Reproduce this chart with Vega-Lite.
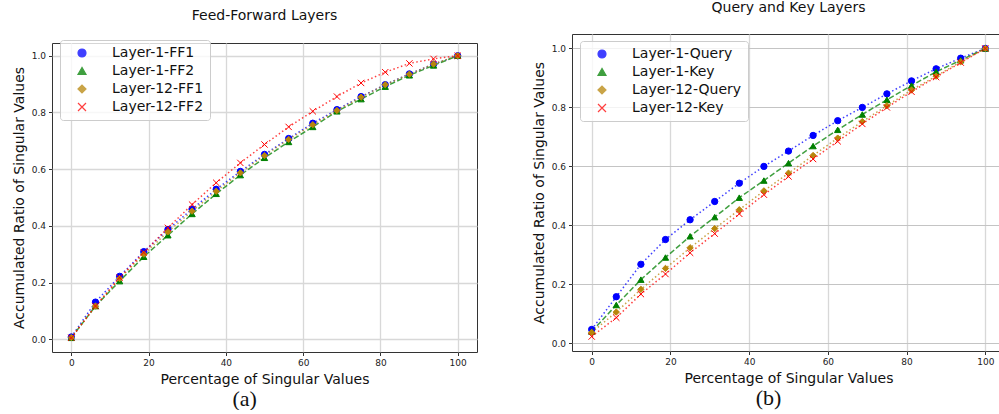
{
  "$schema": "https://vega.github.io/schema/vega-lite/v6.json",
  "padding": {"left": 11, "top": 0, "right": 0, "bottom": 0},
  "background": "white",
  "datasets": {
    "ff": [
      {"p":0,"r":0.008,"s":"Layer-1-FF1"},{"p":6.25,"r":0.131,"s":"Layer-1-FF1"},{"p":12.5,"r":0.222,"s":"Layer-1-FF1"},{"p":18.75,"r":0.309,"s":"Layer-1-FF1"},{"p":25,"r":0.387,"s":"Layer-1-FF1"},{"p":31.25,"r":0.459,"s":"Layer-1-FF1"},{"p":37.5,"r":0.529,"s":"Layer-1-FF1"},{"p":43.75,"r":0.592,"s":"Layer-1-FF1"},{"p":50,"r":0.652,"s":"Layer-1-FF1"},{"p":56.25,"r":0.708,"s":"Layer-1-FF1"},{"p":62.5,"r":0.762,"s":"Layer-1-FF1"},{"p":68.75,"r":0.81,"s":"Layer-1-FF1"},{"p":75,"r":0.856,"s":"Layer-1-FF1"},{"p":81.25,"r":0.898,"s":"Layer-1-FF1"},{"p":87.5,"r":0.936,"s":"Layer-1-FF1"},{"p":93.75,"r":0.97,"s":"Layer-1-FF1"},{"p":100,"r":1.0,"s":"Layer-1-FF1"},
      {"p":0,"r":0.005,"s":"Layer-1-FF2"},{"p":6.25,"r":0.117,"s":"Layer-1-FF2"},{"p":12.5,"r":0.205,"s":"Layer-1-FF2"},{"p":18.75,"r":0.291,"s":"Layer-1-FF2"},{"p":25,"r":0.367,"s":"Layer-1-FF2"},{"p":31.25,"r":0.442,"s":"Layer-1-FF2"},{"p":37.5,"r":0.513,"s":"Layer-1-FF2"},{"p":43.75,"r":0.579,"s":"Layer-1-FF2"},{"p":50,"r":0.64,"s":"Layer-1-FF2"},{"p":56.25,"r":0.696,"s":"Layer-1-FF2"},{"p":62.5,"r":0.749,"s":"Layer-1-FF2"},{"p":68.75,"r":0.804,"s":"Layer-1-FF2"},{"p":75,"r":0.847,"s":"Layer-1-FF2"},{"p":81.25,"r":0.891,"s":"Layer-1-FF2"},{"p":87.5,"r":0.931,"s":"Layer-1-FF2"},{"p":93.75,"r":0.966,"s":"Layer-1-FF2"},{"p":100,"r":1.0,"s":"Layer-1-FF2"},
      {"p":0,"r":0.006,"s":"Layer-12-FF1"},{"p":6.25,"r":0.117,"s":"Layer-12-FF1"},{"p":12.5,"r":0.214,"s":"Layer-12-FF1"},{"p":18.75,"r":0.3,"s":"Layer-12-FF1"},{"p":25,"r":0.379,"s":"Layer-12-FF1"},{"p":31.25,"r":0.452,"s":"Layer-12-FF1"},{"p":37.5,"r":0.522,"s":"Layer-12-FF1"},{"p":43.75,"r":0.587,"s":"Layer-12-FF1"},{"p":50,"r":0.648,"s":"Layer-12-FF1"},{"p":56.25,"r":0.705,"s":"Layer-12-FF1"},{"p":62.5,"r":0.757,"s":"Layer-12-FF1"},{"p":68.75,"r":0.807,"s":"Layer-12-FF1"},{"p":75,"r":0.854,"s":"Layer-12-FF1"},{"p":81.25,"r":0.898,"s":"Layer-12-FF1"},{"p":87.5,"r":0.935,"s":"Layer-12-FF1"},{"p":93.75,"r":0.971,"s":"Layer-12-FF1"},{"p":100,"r":1.0,"s":"Layer-12-FF1"},
      {"p":0,"r":0.005,"s":"Layer-12-FF2"},{"p":6.25,"r":0.117,"s":"Layer-12-FF2"},{"p":12.5,"r":0.217,"s":"Layer-12-FF2"},{"p":18.75,"r":0.306,"s":"Layer-12-FF2"},{"p":25,"r":0.393,"s":"Layer-12-FF2"},{"p":31.25,"r":0.475,"s":"Layer-12-FF2"},{"p":37.5,"r":0.552,"s":"Layer-12-FF2"},{"p":43.75,"r":0.622,"s":"Layer-12-FF2"},{"p":50,"r":0.687,"s":"Layer-12-FF2"},{"p":56.25,"r":0.749,"s":"Layer-12-FF2"},{"p":62.5,"r":0.804,"s":"Layer-12-FF2"},{"p":68.75,"r":0.856,"s":"Layer-12-FF2"},{"p":75,"r":0.904,"s":"Layer-12-FF2"},{"p":81.25,"r":0.942,"s":"Layer-12-FF2"},{"p":87.5,"r":0.973,"s":"Layer-12-FF2"},{"p":93.75,"r":0.989,"s":"Layer-12-FF2"},{"p":100,"r":1.0,"s":"Layer-12-FF2"}
    ],
    "qk": [
      {"p":0,"r":0.047,"s":"Layer-1-Query"},{"p":6.25,"r":0.158,"s":"Layer-1-Query"},{"p":12.5,"r":0.268,"s":"Layer-1-Query"},{"p":18.75,"r":0.352,"s":"Layer-1-Query"},{"p":25,"r":0.419,"s":"Layer-1-Query"},{"p":31.25,"r":0.481,"s":"Layer-1-Query"},{"p":37.5,"r":0.543,"s":"Layer-1-Query"},{"p":43.75,"r":0.6,"s":"Layer-1-Query"},{"p":50,"r":0.652,"s":"Layer-1-Query"},{"p":56.25,"r":0.705,"s":"Layer-1-Query"},{"p":62.5,"r":0.755,"s":"Layer-1-Query"},{"p":68.75,"r":0.8,"s":"Layer-1-Query"},{"p":75,"r":0.846,"s":"Layer-1-Query"},{"p":81.25,"r":0.89,"s":"Layer-1-Query"},{"p":87.5,"r":0.931,"s":"Layer-1-Query"},{"p":93.75,"r":0.967,"s":"Layer-1-Query"},{"p":100,"r":1.0,"s":"Layer-1-Query"},
      {"p":0,"r":0.04,"s":"Layer-1-Key"},{"p":6.25,"r":0.13,"s":"Layer-1-Key"},{"p":12.5,"r":0.216,"s":"Layer-1-Key"},{"p":18.75,"r":0.291,"s":"Layer-1-Key"},{"p":25,"r":0.363,"s":"Layer-1-Key"},{"p":31.25,"r":0.428,"s":"Layer-1-Key"},{"p":37.5,"r":0.494,"s":"Layer-1-Key"},{"p":43.75,"r":0.552,"s":"Layer-1-Key"},{"p":50,"r":0.611,"s":"Layer-1-Key"},{"p":56.25,"r":0.669,"s":"Layer-1-Key"},{"p":62.5,"r":0.724,"s":"Layer-1-Key"},{"p":68.75,"r":0.776,"s":"Layer-1-Key"},{"p":75,"r":0.826,"s":"Layer-1-Key"},{"p":81.25,"r":0.874,"s":"Layer-1-Key"},{"p":87.5,"r":0.921,"s":"Layer-1-Key"},{"p":93.75,"r":0.96,"s":"Layer-1-Key"},{"p":100,"r":1.0,"s":"Layer-1-Key"},
      {"p":0,"r":0.037,"s":"Layer-12-Query"},{"p":6.25,"r":0.106,"s":"Layer-12-Query"},{"p":12.5,"r":0.183,"s":"Layer-12-Query"},{"p":18.75,"r":0.254,"s":"Layer-12-Query"},{"p":25,"r":0.324,"s":"Layer-12-Query"},{"p":31.25,"r":0.389,"s":"Layer-12-Query"},{"p":37.5,"r":0.453,"s":"Layer-12-Query"},{"p":43.75,"r":0.517,"s":"Layer-12-Query"},{"p":50,"r":0.577,"s":"Layer-12-Query"},{"p":56.25,"r":0.637,"s":"Layer-12-Query"},{"p":62.5,"r":0.696,"s":"Layer-12-Query"},{"p":68.75,"r":0.752,"s":"Layer-12-Query"},{"p":75,"r":0.806,"s":"Layer-12-Query"},{"p":81.25,"r":0.859,"s":"Layer-12-Query"},{"p":87.5,"r":0.906,"s":"Layer-12-Query"},{"p":93.75,"r":0.955,"s":"Layer-12-Query"},{"p":100,"r":1.0,"s":"Layer-12-Query"},
      {"p":0,"r":0.023,"s":"Layer-12-Key"},{"p":6.25,"r":0.087,"s":"Layer-12-Key"},{"p":12.5,"r":0.167,"s":"Layer-12-Key"},{"p":18.75,"r":0.235,"s":"Layer-12-Key"},{"p":25,"r":0.307,"s":"Layer-12-Key"},{"p":31.25,"r":0.372,"s":"Layer-12-Key"},{"p":37.5,"r":0.439,"s":"Layer-12-Key"},{"p":43.75,"r":0.504,"s":"Layer-12-Key"},{"p":50,"r":0.566,"s":"Layer-12-Key"},{"p":56.25,"r":0.625,"s":"Layer-12-Key"},{"p":62.5,"r":0.685,"s":"Layer-12-Key"},{"p":68.75,"r":0.744,"s":"Layer-12-Key"},{"p":75,"r":0.8,"s":"Layer-12-Key"},{"p":81.25,"r":0.853,"s":"Layer-12-Key"},{"p":87.5,"r":0.903,"s":"Layer-12-Key"},{"p":93.75,"r":0.952,"s":"Layer-12-Key"},{"p":100,"r":1.0,"s":"Layer-12-Key"}
    ]
  },
  "spacing": 53,
  "hconcat": [
    {
      "title": {"text": "(a)", "orient": "bottom", "font": "Liberation Serif", "fontSize": 22, "frame": "bounds", "offset": 2, "anchor": "middle"},
      "spacing": 7,
      "vconcat": [
        {"width": 425, "height": 1, "view": {"stroke": null}, "title": {"text": "Feed-Forward Layers", "offset": 11}, "data": {"values": []}, "mark": "point", "encoding": {}},
        {
          "width": 425, "height": 309,
          "data": {"name": "ff"},
          "encoding": {
            "x": {"field": "p", "type": "quantitative", "scale": {"domain": [-5, 105], "nice": false, "zero": false}, "axis": {"values": [0,20,40,60,80,100], "title": "Percentage of Singular Values", "format": "d"}},
            "y": {"field": "r", "type": "quantitative", "scale": {"domain": [-0.045, 1.045], "nice": false, "zero": false}, "axis": {"values": [0,0.2,0.4,0.6,0.8,1.0], "title": "Accumulated Ratio of Singular Values", "format": ".1f"}}
          },
          "layer": [
            {
              "mark": {"type": "line", "strokeWidth": 1.5, "opacity": 0.75},
              "encoding": {
                "color": {"field": "s", "type": "nominal", "scale": {"domain": ["Layer-1-FF1","Layer-1-FF2","Layer-12-FF1","Layer-12-FF2"], "range": ["blue","green","#b8860b","red"]}},
                "strokeDash": {"field": "s", "type": "nominal", "sort": ["Layer-1-FF1","Layer-1-FF2","Layer-12-FF1","Layer-12-FF2"], "scale": {"range": [[1.5,2.5],[5.5,2.4],[1.5,2.5],[1.5,2.5]]}, "legend": null}
              }
            },
            {
              "mark": {"type": "point", "filled": true, "opacity": 1, "size": 40, "strokeWidth": 1},
              "encoding": {
                "color": {"field": "s", "type": "nominal", "scale": {"domain": ["Layer-1-FF1","Layer-1-FF2","Layer-12-FF1","Layer-12-FF2"], "range": ["blue","green","#b8860b","red"]},
                  "legend": {
                    "orient": "none", "legendX": 8, "legendY": 6, "title": null, "padding": 6, "rowPadding": 4,
                    "fillColor": "rgba(255,255,255,0.8)", "strokeColor": "#cccccc", "cornerRadius": 3,
                    "labelFontSize": 14, "labelFont": "DejaVu Sans", "labelColor": "#111", "labelLimit": 300,
                    "symbolSize": 64, "symbolOffset": 9, "labelOffset": 23, "symbolOpacity": 1, "symbolStrokeWidth": 1.2
                  }
                },
                "stroke": {"field": "s", "type": "nominal", "scale": {"domain": ["Layer-1-FF1","Layer-1-FF2","Layer-12-FF1","Layer-12-FF2"], "range": ["blue","green","#b8860b","red"]}},
                "shape": {"field": "s", "type": "nominal", "scale": {"domain": ["Layer-1-FF1","Layer-1-FF2","Layer-12-FF1","Layer-12-FF2"], "range": ["circle","triangle-up","diamond","M-1,-1L1,1M-1,1L1,-1"]}}
              }
            }
          ]
        }
      ]
    },
    {
      "title": {"text": "(b)", "orient": "bottom", "font": "Liberation Serif", "fontSize": 22, "frame": "bounds", "offset": 2, "anchor": "middle"},
      "vconcat": [
        {
          "width": 433, "height": 317,
          "title": {"text": "Query and Key Layers"},
          "data": {"name": "qk"},
          "encoding": {
            "x": {"field": "p", "type": "quantitative", "scale": {"domain": [-5, 105], "nice": false, "zero": false}, "axis": {"values": [0,20,40,60,80,100], "title": "Percentage of Singular Values", "format": "d"}},
            "y": {"field": "r", "type": "quantitative", "scale": {"domain": [-0.026, 1.049], "nice": false, "zero": false}, "axis": {"values": [0,0.2,0.4,0.6,0.8,1.0], "title": "Accumulated Ratio of Singular Values", "format": ".1f", "gridColor": "#c4c4c4", "gridWidth": 1}}
          },
          "layer": [
            {
              "mark": {"type": "line", "strokeWidth": 1.5, "opacity": 0.75},
              "encoding": {
                "color": {"field": "s", "type": "nominal", "scale": {"domain": ["Layer-1-Query","Layer-1-Key","Layer-12-Query","Layer-12-Key"], "range": ["blue","green","#b8860b","red"]}},
                "strokeDash": {"field": "s", "type": "nominal", "sort": ["Layer-1-Query","Layer-1-Key","Layer-12-Query","Layer-12-Key"], "scale": {"range": [[1.5,2.5],[5.5,2.4],[1.5,2.5],[1.5,2.5]]}, "legend": null}
              }
            },
            {
              "mark": {"type": "point", "filled": true, "opacity": 1, "size": 40, "strokeWidth": 1},
              "encoding": {
                "color": {"field": "s", "type": "nominal", "scale": {"domain": ["Layer-1-Query","Layer-1-Key","Layer-12-Query","Layer-12-Key"], "range": ["blue","green","#b8860b","red"]},
                  "legend": {
                    "orient": "none", "legendX": 8, "legendY": 7, "title": null, "padding": 6, "rowPadding": 4,
                    "fillColor": "rgba(255,255,255,0.8)", "strokeColor": "#cccccc", "cornerRadius": 3,
                    "labelFontSize": 14, "labelFont": "DejaVu Sans", "labelColor": "#111", "labelLimit": 300,
                    "symbolSize": 64, "symbolOffset": 9, "labelOffset": 23, "symbolOpacity": 1, "symbolStrokeWidth": 1.2
                  }
                },
                "stroke": {"field": "s", "type": "nominal", "scale": {"domain": ["Layer-1-Query","Layer-1-Key","Layer-12-Query","Layer-12-Key"], "range": ["blue","green","#b8860b","red"]}},
                "shape": {"field": "s", "type": "nominal", "scale": {"domain": ["Layer-1-Query","Layer-1-Key","Layer-12-Query","Layer-12-Key"], "range": ["circle","triangle-up","diamond","M-1,-1L1,1M-1,1L1,-1"]}}
              }
            }
          ]
        }
      ]
    }
  ],
  "resolve": {"scale": {"color": "independent", "stroke": "independent", "shape": "independent", "strokeDash": "independent"}, "legend": {"color": "independent", "stroke": "independent", "shape": "independent", "strokeDash": "independent"}},
  "config": {
    "view": {"stroke": "#333333", "strokeWidth": 1},
    "title": {"font": "DejaVu Sans", "fontSize": 14, "fontWeight": "normal", "color": "#111", "anchor": "middle", "frame": "group", "offset": 19},
    "axis": {
      "grid": true, "gridColor": "#d8d8d8", "gridWidth": 1.3, "domain": false,
      "ticks": true, "tickColor": "#333", "tickSize": 3.5, "tickWidth": 1,
      "labelFont": "DejaVu Sans", "labelFontSize": 9, "labelColor": "#222", "labelPadding": 3,
      "titleFont": "DejaVu Sans", "titleFontSize": 14, "titleFontWeight": "normal", "titleColor": "#111", "titlePadding": 5
    }
  }
}
